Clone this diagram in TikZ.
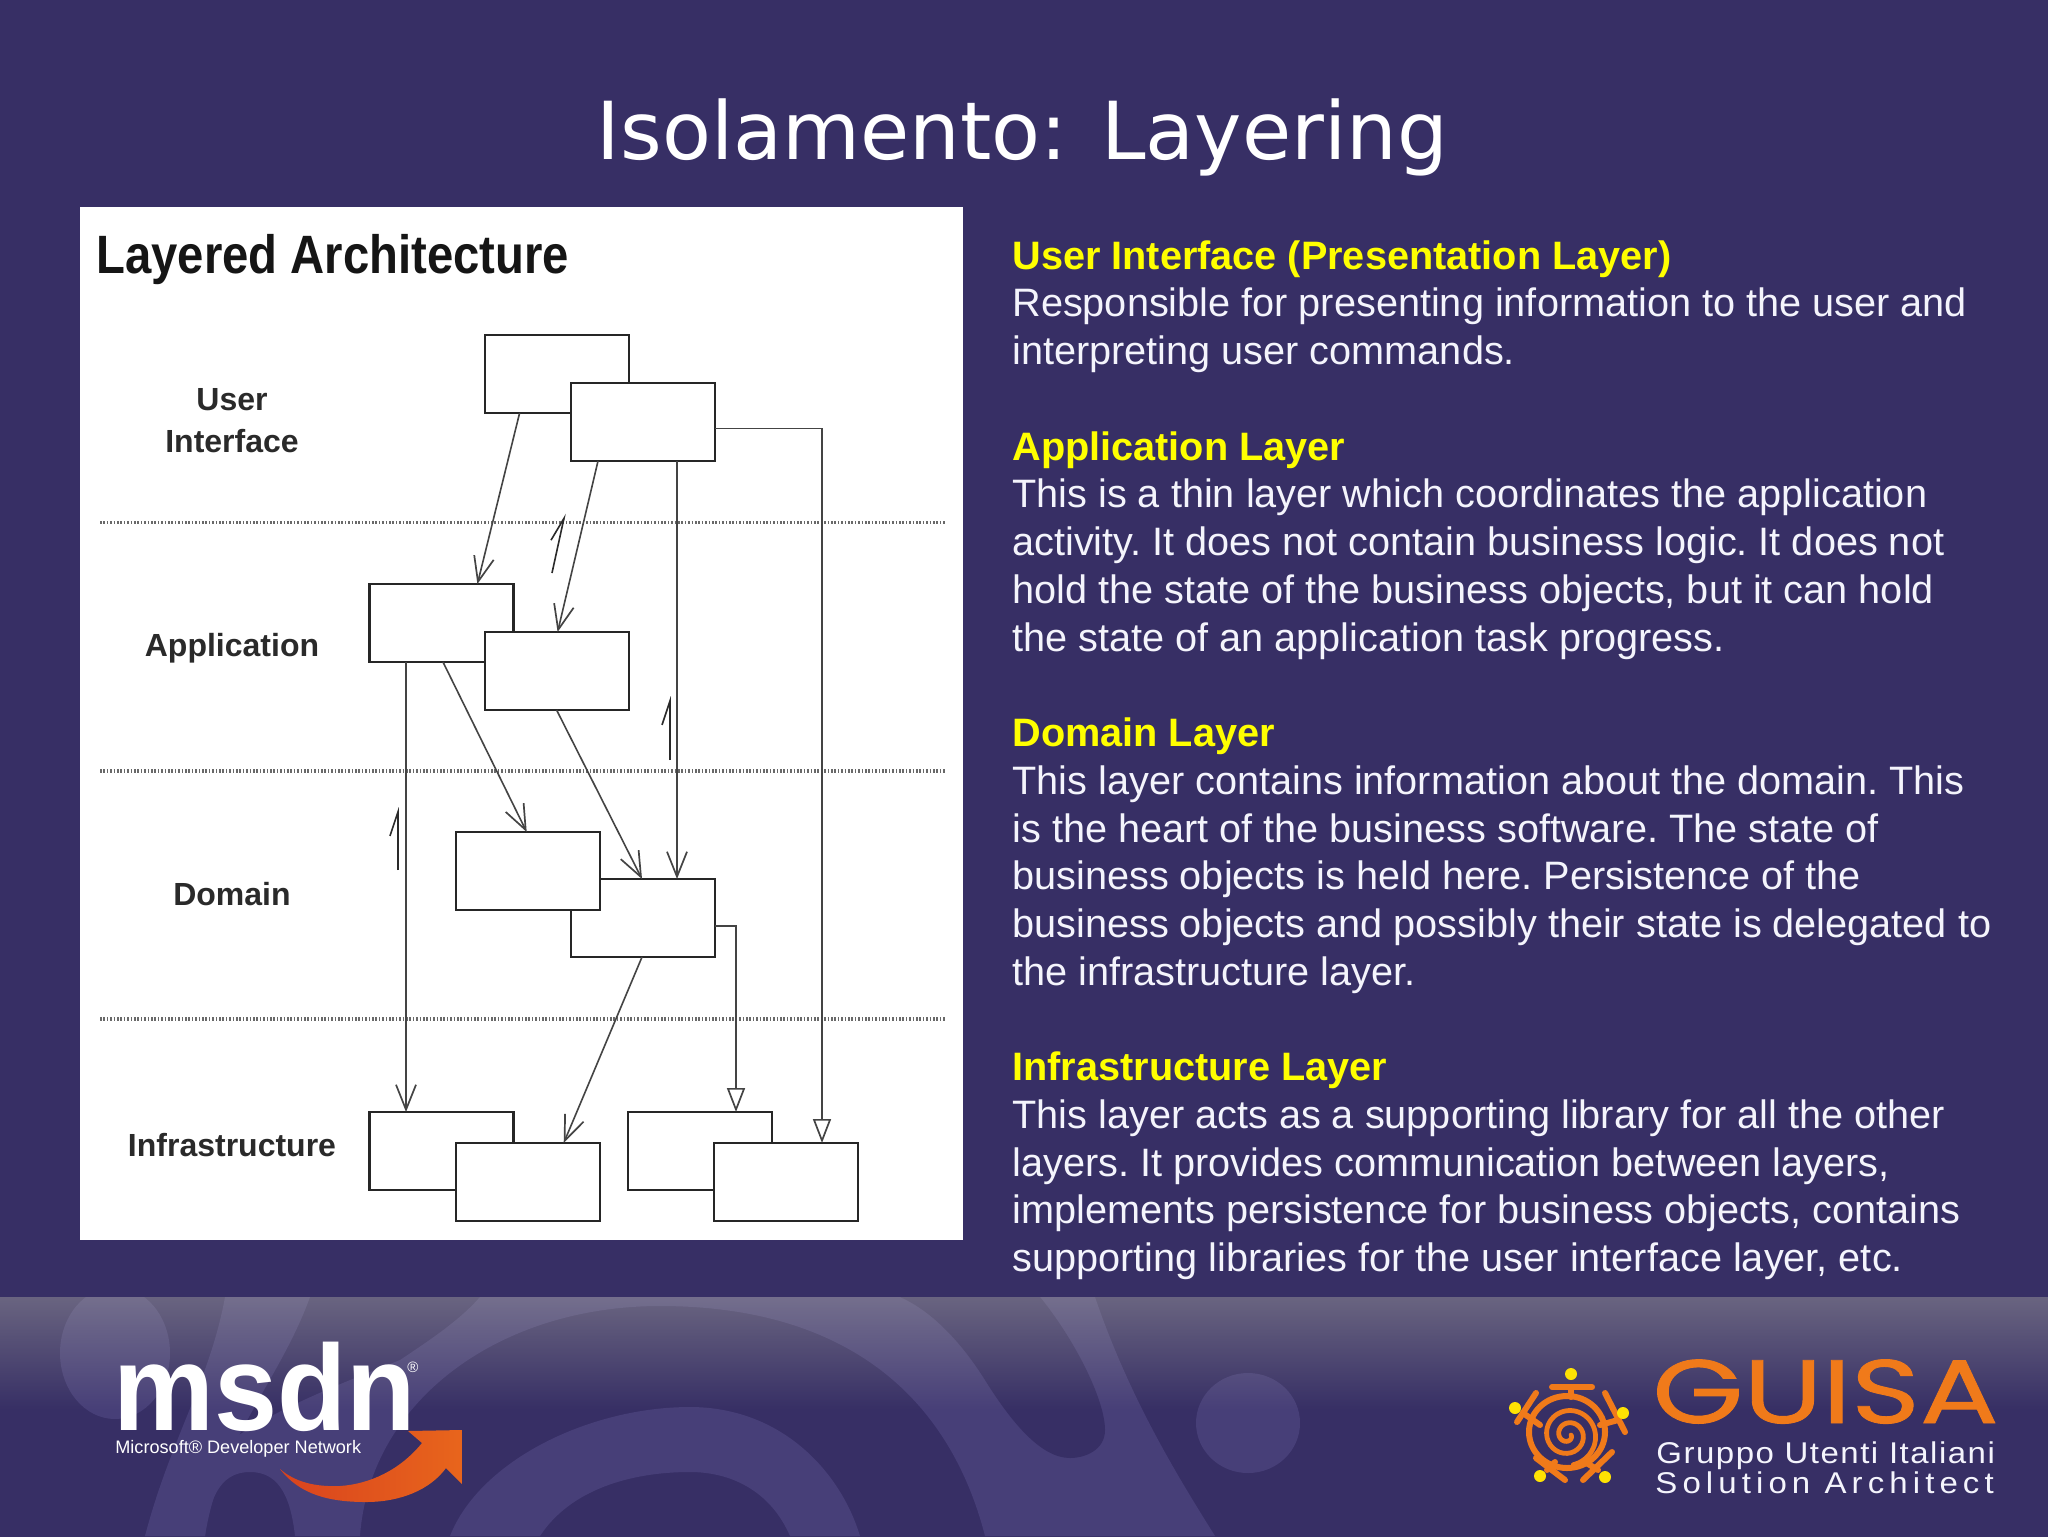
\documentclass[tikz,border=0pt]{standalone}
\usepackage{fontspec}
\setmainfont{Liberation Sans}
\newfontfamily\titlefont{DejaVu Sans}
\newfontfamily\narrowfont[FakeStretch=0.875]{Liberation Sans}
\newfontfamily\msdnfont[FakeStretch=0.93]{Liberation Sans}
\newfontfamily\guisafont[FakeStretch=1.3,FakeBold=1]{Poppins}
\newfontfamily\grfont[FakeStretch=1.1,LetterSpace=5]{Liberation Sans}
\newfontfamily\solfont[FakeStretch=1.1,LetterSpace=17]{Liberation Sans}
\usetikzlibrary{arrows.meta,calc,fadings}
\definecolor{bgc}{HTML}{372F65}
\definecolor{swirl}{HTML}{473F78}
\definecolor{inkc}{HTML}{2A2A2A}
\definecolor{linec}{HTML}{444444}
\definecolor{guisac}{HTML}{F07A1A}
\definecolor{ylw}{HTML}{FFFF00}
\definecolor{bodyc}{HTML}{F4F4FC}
\definecolor{veil}{HTML}{C8C8B4}
\definecolor{arrowa}{HTML}{D9431E}
\definecolor{arrowb}{HTML}{F08A3A}
\definecolor{arrowc}{HTML}{E8651C}
\tikzfading[name=topfade, top color=transparent!65, bottom color=transparent!100]
\tikzset{
  umlbox/.style={draw=black!85,fill=white,line width=1.1pt,inner sep=0pt,outer sep=0pt,
    minimum width=72pt,minimum height=39pt,anchor=north west},
  layer/.style={font=\fontsize{16}{18}\selectfont\bfseries,text=inkc,align=center,inner sep=0pt,anchor=base},
  sep/.style={draw=linec!80,line width=1.6pt,dash pattern=on 0.8pt off 0.9pt},
  dep/.style={draw=linec,line width=0.8pt,-{Straight Barb[length=12.5pt,width=10pt,line width=0.85pt]}},
  inh/.style={draw=linec,line width=0.8pt,-{Triangle[open,fill=white,length=12pt,width=9pt,line width=0.85pt]}},
  dir/.style={draw=inkc,line width=0.8pt,-{Straight Barb[harpoon,length=12pt,width=8pt,line width=0.8pt]}},
  limb/.style={draw=guisac,line width=3pt,line cap=round},
  spot/.style={fill=yellow!85!orange}
}
\begin{document}
\begin{tikzpicture}[x=0.5pt,y=-0.5pt]
\useasboundingbox (0,0) rectangle (2048,1536);
\fill[bgc] (-4,-4) rectangle (2052,1540);
% footer
\begin{scope}
\clip (-4,1297) rectangle (2052,1540);
\fill[swirl] (115,1353) ellipse [x radius=55,y radius=66];
\fill[swirl] (1248,1423) ellipse [x radius=52,y radius=50];
\fill[swirl] (225,1297) -- (310,1297) .. controls (280,1380) and (220,1440) .. (205,1536) -- (145,1536) .. controls (170,1440) and (210,1380) .. (225,1297) -- cycle;
\fill[swirl] (480,1297) -- (1095,1297) .. controls (1130,1400) and (1180,1480) .. (1215,1536) -- (985,1536)
  .. controls (950,1400) and (850,1306) .. (660,1306) .. controls (500,1306) and (370,1400) .. (360,1536) -- (295,1536)
  .. controls (290,1490) and (275,1472) .. (250,1472) .. controls (225,1472) and (210,1490) .. (205,1536)
  -- (145,1536) .. controls (190,1440) and (300,1400) .. (400,1360) .. controls (430,1340) and (460,1320) .. (480,1297) -- cycle;
\fill[bgc] (900,1297) -- (1040,1297) .. controls (1075,1340) and (1105,1400) .. (1105,1430) .. controls (1105,1450) and (1085,1458) .. (1070,1458)
  .. controls (1040,1458) and (1010,1420) .. (985,1380) .. controls (960,1340) and (930,1310) .. (900,1297) -- cycle;
\fill[swirl] (450,1536) .. controls (480,1460) and (590,1407) .. (690,1407) .. controls (780,1407) and (840,1470) .. (860,1536) -- (790,1536)
  .. controls (770,1490) and (730,1472) .. (690,1472) .. controls (630,1472) and (570,1490) .. (540,1536) -- cycle;
\fill[veil,path fading=topfade] (-4,1297) rectangle (2052,1410);
\end{scope}
% title
\node[font=\titlefont\fontsize{40}{46}\selectfont,text=white,anchor=base,inner sep=0pt] (title) at (1022.5,159) {Isolamento: Layering};
% white panel
\fill[white] (80,207) rectangle (963,1240);
\node[font=\narrowfont\fontsize{27}{30}\selectfont\bfseries,text=inkc!50!black,anchor=base west,inner sep=0pt] (lay) at (96,273) {Layered Architecture};
% separators
\coordinate (s1a) at (100,522.5); \coordinate (s1b) at (945,522.5);
\coordinate (s2a) at (100,771);   \coordinate (s2b) at (945,771);
\coordinate (s3a) at (100,1019);  \coordinate (s3b) at (945,1019);
\draw[sep] (s1a) -- (s1b);
\draw[sep] (s2a) -- (s2b);
\draw[sep] (s3a) -- (s3b);
% layer labels
\node[layer] (lu) at (232,410) {User};
\node[layer] (li) at (232,452) {Interface};
\node[layer] (la) at (232,656) {Application};
\node[layer] (ld) at (232,905) {Domain};
\node[layer] (lf) at (232,1156) {Infrastructure};
% boxes
\node[umlbox] (ui1) at (484.6,335) {};
\node[umlbox] (ui2) at (571,383) {};
\node[umlbox] (app1) at (369.4,584) {};
\node[umlbox] (app2) at (484.6,632) {};
\node[umlbox] (dom2) at (571,879) {};
\node[umlbox] (dom1) at (455.7,832) {};
\node[umlbox] (inf1) at (369.4,1112) {};
\node[umlbox] (inf2) at (455.7,1143) {};
\node[umlbox] (inf3) at (628,1112) {};
\node[umlbox] (inf4) at (714,1143) {};
% connectors
\draw[dep] ($(ui1.south west)+(35,0)$) -- ($(app1.north west)+(108,0)$);
\draw[dep] ($(ui2.south west)+(27,0)$) -- ($(app2.north west)+(73,0)$);
\draw[dep] ($(ui2.south west)+(106,0)$) -- ($(dom2.north west)+(106,0)$);
\draw[inh] ($(ui2.north east)+(0,45.6)$) -| ($(inf4.north west)+(108,0)$);
\draw[dep] ($(app1.south west)+(36.6,0)$) -- ($(inf1.north west)+(36.6,0)$);
\draw[dep] ($(app1.south west)+(73.6,0)$) -- ($(dom1.north west)+(71,0)$);
\draw[dep] ($(app2.south west)+(72,0)$) -- ($(dom2.north west)+(71,0)$);
\draw[dep] ($(dom2.south west)+(71,0)$) -- ($(inf2.north west)+(108,0)$);
\draw[inh] ($(dom2.north east)+(0,46.7)$) -| ($(inf3.north west)+(108,0)$);
% direction marks
\coordinate (m1a) at (552,573); \coordinate (m1b) at (565,513.6);
\coordinate (m2a) at (670,760); \coordinate (m2b) at (670,696);
\coordinate (m3a) at (398,870); \coordinate (m3b) at (398,807);
\draw[dir] (m1a) -- (m1b);
\draw[dir] (m2a) -- (m2b);
\draw[dir] (m3a) -- (m3b);
% body text
\node[anchor=north west,inner sep=0pt,align=left,text=bodyc,font=\fontsize{19.83}{23.87}\selectfont\frenchspacing] (body) at (1012,240) {%
\textcolor{ylw}{\textbf{User Interface (Presentation Layer)}}\\
Responsible for presenting information to the user and\\
interpreting user commands.\\
\mbox{}\\
\textcolor{ylw}{\textbf{Application Layer}}\\
This is a thin layer which coordinates the application\\
activity. It does not contain business logic. It does not\\
hold the state of the business objects, but it can hold\\
the state of an application task progress.\\
\mbox{}\\
\textcolor{ylw}{\textbf{Domain Layer}}\\
This layer contains information about the domain. This\\
is the heart of the business software. The state of\\
business objects is held here. Persistence of the\\
business objects and possibly their state is delegated to\\
the infrastructure layer.\\
\mbox{}\\
\textcolor{ylw}{\textbf{Infrastructure Layer}}\\
This layer acts as a supporting library for all the other\\
layers. It provides communication between layers,\\
implements persistence for business objects, contains\\
supporting libraries for the user interface layer, etc.};
% msdn logo
\node[font=\msdnfont\fontsize{61}{66}\selectfont\bfseries,text=white,anchor=base west,inner sep=0pt] (msdn) at (113,1430) {msdn};
\node[font=\fontsize{7.5}{8}\selectfont,text=white,anchor=base west,inner sep=0pt] (reg) at (407,1372) {®};
\node[font=\fontsize{9.05}{10}\selectfont,text=white,anchor=base west,inner sep=0pt] (msdnsub) at (115,1453) {Microsoft® Developer Network};
\shade[left color=arrowa,middle color=arrowb,right color=arrowc] (280,1469) .. controls (300,1495) and (330,1502) .. (366,1502) .. controls (400,1502) and (430,1490) .. (446,1468) -- (462,1484) -- (462,1430) -- (408,1431) -- (422,1443) .. controls (400,1470) and (370,1484) .. (340,1486) .. controls (315,1487) and (295,1482) .. (280,1469) -- cycle;
% GUISA logo
\node[font=\guisafont\fontsize{45}{50}\selectfont,text=guisac,anchor=base west,inner sep=0pt] (guisa) at (1652,1423) {GUISA};
\node[font=\grfont\fontsize{15}{15}\selectfont,text=bodyc,anchor=base west,inner sep=0pt] (gr1) at (1656,1463) {Gruppo Utenti Italiani};
\node[font=\solfont\fontsize{15}{15}\selectfont,text=bodyc,anchor=base west,inner sep=0pt] (gr2) at (1655,1493) {Solution Architect};
% turtle
\draw[limb] (1567,1432) ellipse [x radius=38,y radius=36];
\draw[limb,line width=2.4pt] plot[domain=0:800,samples=70,smooth] ({1568+(3+0.034*\x)*cos(\x)},{1435+(3+0.034*\x)*sin(\x)});
\draw[limb] (1552,1387) -- (1592,1387);
\draw[limb] (1571,1387) -- (1571,1397);
\draw[limb] (1523,1413) -- (1540,1425); \draw[limb] (1517,1422) -- (1536,1393);
\draw[limb] (1618,1420) -- (1600,1425); \draw[limb] (1625,1432) -- (1605,1393);
\draw[limb] (1547,1470) -- (1555,1462); \draw[limb] (1536,1458) -- (1565,1480);
\draw[limb] (1598,1470) -- (1585,1462); \draw[limb] (1612,1452) -- (1583,1480);
\fill[spot] (1571,1374) circle (6);
\fill[spot] (1515,1408) circle (6);
\fill[spot] (1623,1413) circle (6);
\fill[spot] (1540,1476) circle (6);
\fill[spot] (1605,1477) circle (6);
\end{tikzpicture}
\end{document}
